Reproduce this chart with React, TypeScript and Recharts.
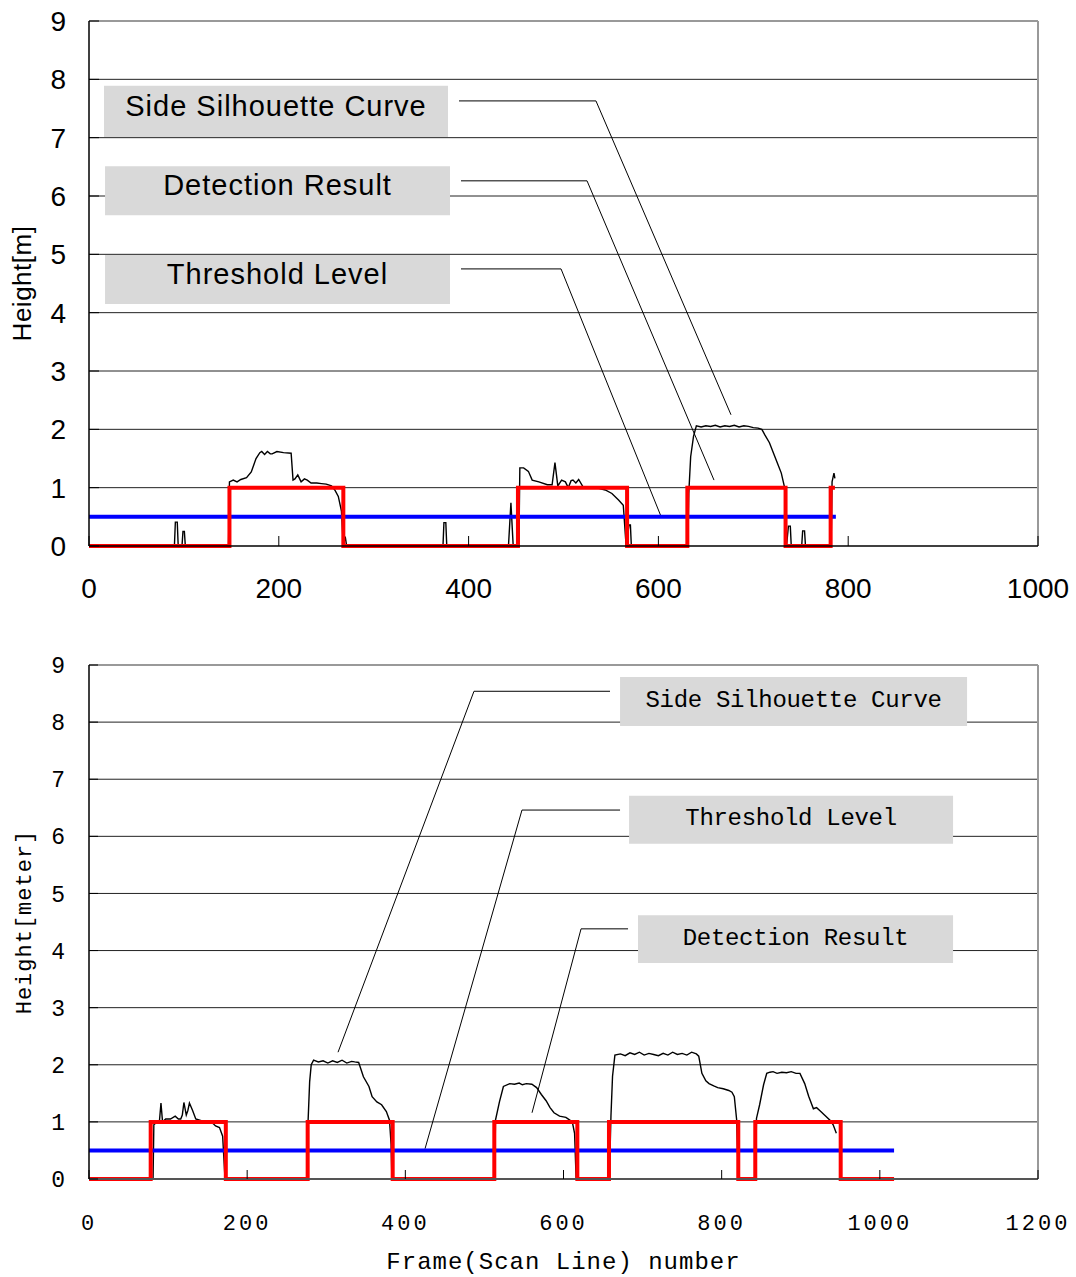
import React from 'react';
import {
  LineChart,
  Line,
  XAxis,
  YAxis,
  CartesianGrid,
  ReferenceArea,
  ReferenceLine
} from 'recharts';

// ---- top chart data (frame number vs height in m) ----
const topSilhouette = [
  { x: 0, y: 0 }, { x: 90, y: 0 }, { x: 91, y: 0.41 }, { x: 93, y: 0.41 }, { x: 94, y: 0 },
  { x: 98, y: 0 }, { x: 99, y: 0.25 }, { x: 100.5, y: 0.25 }, { x: 101.5, y: 0 },
  { x: 147, y: 0 }, { x: 148, y: 1.1 }, { x: 152, y: 1.13 }, { x: 156, y: 1.1 }, { x: 160, y: 1.14 },
  { x: 166, y: 1.17 }, { x: 171, y: 1.27 }, { x: 176, y: 1.5 }, { x: 180, y: 1.6 }, { x: 182, y: 1.62 },
  { x: 185, y: 1.57 }, { x: 188, y: 1.62 }, { x: 191, y: 1.58 }, { x: 193, y: 1.58 }, { x: 198, y: 1.62 },
  { x: 205, y: 1.6 }, { x: 213, y: 1.59 }, { x: 215, y: 1.13 }, { x: 217, y: 1.15 }, { x: 220, y: 1.22 },
  { x: 223.5, y: 1.1 }, { x: 227, y: 1.15 }, { x: 230, y: 1.13 }, { x: 234, y: 1.08 }, { x: 240, y: 1.08 },
  { x: 245, y: 1.07 }, { x: 250, y: 1.06 }, { x: 255.5, y: 1.03 }, { x: 259, y: 0.96 }, { x: 262.7, y: 0.85 },
  { x: 266, y: 0.6 }, { x: 268, y: 0 }, { x: 270, y: 0.16 }, { x: 271.5, y: 0 },
  { x: 373, y: 0 }, { x: 374, y: 0.4 }, { x: 376, y: 0.4 }, { x: 377, y: 0 },
  { x: 442, y: 0 }, { x: 444.6, y: 0.74 }, { x: 447, y: 0 },
  { x: 453, y: 0 }, { x: 454, y: 1.34 }, { x: 458, y: 1.34 }, { x: 463, y: 1.28 }, { x: 467, y: 1.13 },
  { x: 474, y: 1.1 }, { x: 483, y: 1.05 }, { x: 488, y: 1.05 }, { x: 491, y: 1.43 }, { x: 494, y: 1.03 },
  { x: 498, y: 1.13 }, { x: 502, y: 1.1 }, { x: 505, y: 1.0 }, { x: 508, y: 1.12 }, { x: 510, y: 1.13 },
  { x: 513, y: 1.08 }, { x: 516, y: 1.14 }, { x: 521, y: 1.0 }, { x: 530, y: 1.0 }, { x: 537, y: 0.99 },
  { x: 544, y: 0.96 }, { x: 551, y: 0.9 }, { x: 558, y: 0.79 }, { x: 563, y: 0.7 }, { x: 566, y: 0 },
  { x: 569, y: 0.36 }, { x: 570.5, y: 0.36 }, { x: 571.5, y: 0 },
  { x: 631, y: 0 }, { x: 632, y: 0.9 }, { x: 634, y: 1.53 }, { x: 637, y: 1.88 }, { x: 640, y: 2.06 },
  { x: 645, y: 2.04 }, { x: 650, y: 2.06 }, { x: 655, y: 2.05 }, { x: 660, y: 2.07 }, { x: 665, y: 2.04 },
  { x: 670, y: 2.06 }, { x: 675, y: 2.05 }, { x: 680, y: 2.07 }, { x: 685, y: 2.04 }, { x: 690, y: 2.06 },
  { x: 695, y: 2.05 }, { x: 700, y: 2.03 }, { x: 705, y: 2.02 }, { x: 709, y: 2.0 }, { x: 712, y: 1.91 },
  { x: 717, y: 1.77 }, { x: 724, y: 1.48 }, { x: 729.5, y: 1.25 }, { x: 733, y: 1.0 }, { x: 735, y: 0 },
  { x: 737, y: 0.34 }, { x: 739, y: 0.34 }, { x: 740, y: 0 },
  { x: 751, y: 0 }, { x: 752, y: 0.26 }, { x: 754, y: 0.26 }, { x: 755, y: 0 },
  { x: 782, y: 0 }, { x: 783, y: 1.1 }, { x: 785, y: 1.25 }, { x: 786, y: 1.16 }
];

const topDetection = [
  { x: 0, y: 0 }, { x: 148, y: 0 }, { x: 148, y: 1 }, { x: 268, y: 1 }, { x: 268, y: 0 },
  { x: 452, y: 0 }, { x: 452, y: 1 }, { x: 567, y: 1 }, { x: 567, y: 0 },
  { x: 630.5, y: 0 }, { x: 630.5, y: 1 }, { x: 734, y: 1 }, { x: 734, y: 0 },
  { x: 781.5, y: 0 }, { x: 781.5, y: 1 }, { x: 786, y: 1 }
];

const topThreshold = [{ x: 0, y: 0.5 }, { x: 787, y: 0.5 }];

const topXTicks = [0, 200, 400, 600, 800, 1000];

// ---- bottom chart data ----
const bottomSilhouette = [
  { x: 0, y: 0 }, { x: 81, y: 0 }, { x: 82, y: 0.95 }, { x: 86, y: 1.0 }, { x: 89, y: 1.0 },
  { x: 91, y: 1.33 }, { x: 93, y: 1.0 }, { x: 97, y: 1.05 }, { x: 103, y: 1.05 }, { x: 109, y: 1.1 },
  { x: 113, y: 1.05 }, { x: 116, y: 1.05 }, { x: 118, y: 1.12 }, { x: 120, y: 1.34 }, { x: 123, y: 1.12 },
  { x: 125, y: 1.2 }, { x: 127, y: 1.33 }, { x: 131, y: 1.2 }, { x: 135, y: 1.05 }, { x: 142, y: 1.02 },
  { x: 150, y: 1.0 }, { x: 157, y: 0.97 }, { x: 160, y: 0.93 }, { x: 165, y: 0.9 }, { x: 169, y: 0.75 },
  { x: 172, y: 0 },
  { x: 276, y: 0 }, { x: 277, y: 1.0 }, { x: 279, y: 1.7 }, { x: 281, y: 2.0 }, { x: 284, y: 2.08 },
  { x: 290, y: 2.05 }, { x: 296, y: 2.07 }, { x: 302, y: 2.03 }, { x: 308, y: 2.07 }, { x: 314, y: 2.04 },
  { x: 320, y: 2.08 }, { x: 326, y: 2.03 }, { x: 332, y: 2.06 }, { x: 336, y: 2.05 }, { x: 341, y: 2.04 },
  { x: 347, y: 1.79 }, { x: 354, y: 1.62 }, { x: 358, y: 1.44 }, { x: 364, y: 1.35 }, { x: 370, y: 1.3 },
  { x: 376, y: 1.18 }, { x: 380, y: 1.03 }, { x: 382, y: 0.6 }, { x: 383, y: 0 },
  { x: 513, y: 0 }, { x: 514, y: 1.03 }, { x: 519, y: 1.35 }, { x: 524, y: 1.62 }, { x: 532, y: 1.67 },
  { x: 538, y: 1.66 }, { x: 544, y: 1.68 }, { x: 548, y: 1.65 }, { x: 553, y: 1.67 }, { x: 560, y: 1.66 },
  { x: 566, y: 1.6 }, { x: 572, y: 1.48 }, { x: 578, y: 1.37 }, { x: 583, y: 1.25 }, { x: 588, y: 1.16 },
  { x: 595, y: 1.1 }, { x: 603, y: 1.08 }, { x: 608, y: 1.03 }, { x: 611, y: 1.01 }, { x: 614, y: 0.8 },
  { x: 616, y: 0 },
  { x: 658, y: 0 }, { x: 660, y: 1.1 }, { x: 662, y: 1.8 }, { x: 665, y: 2.17 }, { x: 672, y: 2.19 },
  { x: 678, y: 2.16 }, { x: 684, y: 2.21 }, { x: 690, y: 2.18 }, { x: 696, y: 2.22 }, { x: 702, y: 2.17 },
  { x: 708, y: 2.2 }, { x: 714, y: 2.18 }, { x: 720, y: 2.16 }, { x: 726, y: 2.2 }, { x: 732, y: 2.17 },
  { x: 738, y: 2.22 }, { x: 744, y: 2.18 }, { x: 750, y: 2.2 }, { x: 756, y: 2.17 }, { x: 762, y: 2.22 },
  { x: 768, y: 2.19 }, { x: 771, y: 2.15 }, { x: 775, y: 1.85 }, { x: 780, y: 1.72 }, { x: 784, y: 1.67 },
  { x: 790, y: 1.63 }, { x: 795, y: 1.6 }, { x: 802, y: 1.58 }, { x: 809, y: 1.55 }, { x: 813, y: 1.52 },
  { x: 816, y: 1.44 }, { x: 819, y: 1.03 }, { x: 821, y: 0 },
  { x: 843, y: 0 }, { x: 844, y: 1.06 }, { x: 848, y: 1.3 }, { x: 853, y: 1.65 }, { x: 857, y: 1.85 },
  { x: 861, y: 1.87 }, { x: 865, y: 1.88 }, { x: 870, y: 1.85 }, { x: 876, y: 1.87 }, { x: 882, y: 1.86 },
  { x: 888, y: 1.88 }, { x: 894, y: 1.85 }, { x: 899, y: 1.85 }, { x: 905, y: 1.67 }, { x: 910, y: 1.45 },
  { x: 916, y: 1.23 }, { x: 920, y: 1.25 }, { x: 924, y: 1.2 }, { x: 930, y: 1.12 }, { x: 937, y: 1.03 },
  { x: 941, y: 0.95 }, { x: 945, y: 0.8 }
];

const bottomDetection = [
  { x: 0, y: 0 }, { x: 78, y: 0 }, { x: 78, y: 1 }, { x: 173, y: 1 }, { x: 173, y: 0 },
  { x: 276.5, y: 0 }, { x: 276.5, y: 1 }, { x: 384, y: 1 }, { x: 384, y: 0 },
  { x: 512.5, y: 0 }, { x: 512.5, y: 1 }, { x: 617.5, y: 1 }, { x: 617.5, y: 0 },
  { x: 657.5, y: 0 }, { x: 657.5, y: 1 }, { x: 821, y: 1 }, { x: 821, y: 0 },
  { x: 842.5, y: 0 }, { x: 842.5, y: 1 }, { x: 950.5, y: 1 }, { x: 950.5, y: 0 }, { x: 1018, y: 0 }
];

const bottomThreshold = [{ x: 0, y: 0.5 }, { x: 1018, y: 0.5 }];

const bottomXTicks = [0, 200, 400, 600, 800, 1000, 1200];

const yTicks = [0, 1, 2, 3, 4, 5, 6, 7, 8, 9];
const gridValues = [1, 2, 3, 4, 5, 6, 7, 8];

// annotation boxes + leader lines (data coordinates)
const topNotes = [
  { text: 'Side Silhouette Curve', x1: 15.8, x2: 378.3, y1: 7.01, y2: 7.89,
    leader: [{ x: 389.9, y: 7.63 }, { x: 534.2, y: 7.63 }, { x: 676.5, y: 2.25 }] },
  { text: 'Detection Result', x1: 16.9, x2: 380.4, y1: 5.67, y2: 6.51,
    leader: [{ x: 392, y: 6.26 }, { x: 524.8, y: 6.26 }, { x: 658.6, y: 1.13 }] },
  { text: 'Threshold Level', x1: 16.9, x2: 380.4, y1: 4.15, y2: 4.99,
    leader: [{ x: 392, y: 4.75 }, { x: 497.4, y: 4.75 }, { x: 602.7, y: 0.51 }] }
];

const bottomNotes = [
  { text: 'Side Silhouette Curve', x1: 671.5, x2: 1110.3, y1: 7.93, y2: 8.79,
    leader: [{ x: 658.8, y: 8.54 }, { x: 486.8, y: 8.54 }, { x: 314.9, y: 2.22 }] },
  { text: 'Threshold Level', x1: 682.9, x2: 1092.6, y1: 5.87, y2: 6.71,
    leader: [{ x: 671.5, y: 6.46 }, { x: 547.5, y: 6.46 }, { x: 424.9, y: 0.53 }] },
  { text: 'Detection Result', x1: 694.2, x2: 1092.6, y1: 3.78, y2: 4.62,
    leader: [{ x: 681.6, y: 4.38 }, { x: 622.2, y: 4.38 }, { x: 560.2, y: 1.16 }] }
];

const SANS = '"Liberation Sans", Arial, sans-serif';
const MONO = '"Liberation Mono", "Courier New", monospace';

const makeYLabel = (text: string, x: number, font: string, size: number, spacing: number) =>
  (props: any) => {
    const vb = props.viewBox || {};
    const cy = vb.y + vb.height / 2;
    return (
      <text
        x={x}
        y={cy}
        transform={`rotate(-90, ${x}, ${cy})`}
        textAnchor="middle"
        dominantBaseline="central"
        fontFamily={font}
        fontSize={size}
        letterSpacing={spacing}
        fill="#000"
      >
        {text}
      </text>
    );
  };

const renderNotes = (notes: typeof topNotes, font: string, size: number, spacing: number, dy: number) => {
  const out: React.ReactNode[] = [];
  notes.forEach((n, i) => {
    out.push(
      <ReferenceArea
        key={`box-${i}`}
        x1={n.x1}
        x2={n.x2}
        y1={n.y1}
        y2={n.y2}
        fill="#d9d9d9"
        fillOpacity={1}
        stroke="none"
        label={{ value: n.text, position: 'center', fill: '#000', fontFamily: font, fontSize: size, letterSpacing: spacing, dy }}
      />
    );
    for (let k = 0; k < n.leader.length - 1; k++) {
      out.push(
        <ReferenceLine
          key={`lead-${i}-${k}`}
          segment={[n.leader[k], n.leader[k + 1]]}
          stroke="#000"
          strokeWidth={1}
        />
      );
    }
  });
  return out;
};

const App: React.FC = () => {
  return (
    <div style={{ position: 'absolute', left: 0, top: 0, width: 1076, height: 1277, background: '#fff' }}>
      {/* Top chart */}
      <LineChart width={1076} height={620} margin={{ top: 21, right: 38, left: 0, bottom: 0 }}>
        <CartesianGrid vertical={false} horizontalValues={gridValues} stroke="#222" strokeWidth={1} />
        <XAxis
          type="number"
          dataKey="x"
          domain={[0, 1000]}
          ticks={topXTicks}
          height={74}
          axisLine={{ stroke: '#000', strokeWidth: 1.5 }}
          tickLine={{ stroke: '#000' }}
          tickSize={-10}
          tickMargin={42}
          tick={{ fill: '#000', fontFamily: SANS, fontSize: 28 }}
          allowDataOverflow
        />
        <YAxis
          type="number"
          domain={[0, 9]}
          ticks={yTicks}
          width={89}
          axisLine={{ stroke: '#000', strokeWidth: 1.5 }}
          tickLine={{ stroke: '#000' }}
          tickSize={-10}
          tickMargin={33}
          tick={{ fill: '#000', fontFamily: SANS, fontSize: 28 }}
          label={makeYLabel('Height[m]', 22, SANS, 26, 0.5)}
        />
        <ReferenceLine y={9} stroke="#999" strokeWidth={2} />
        <ReferenceLine x={1000} stroke="#999" strokeWidth={2} />
        {renderNotes(topNotes, SANS, 29, 1, -6)}
        <Line data={topSilhouette} dataKey="y" type="linear" stroke="#000" strokeWidth={1.4} dot={false} activeDot={false} isAnimationActive={false} />
        <Line data={topThreshold} dataKey="y" type="linear" stroke="#0000ff" strokeWidth={4} dot={false} activeDot={false} isAnimationActive={false} />
        <Line data={topDetection} dataKey="y" type="linear" stroke="#ff0000" strokeWidth={4} dot={false} activeDot={false} isAnimationActive={false} />
      </LineChart>

      {/* Bottom chart */}
      <LineChart width={1076} height={657} margin={{ top: 45, right: 38, left: 0, bottom: 0 }}>
        <CartesianGrid vertical={false} horizontalValues={gridValues} stroke="#222" strokeWidth={1} />
        <XAxis
          type="number"
          dataKey="x"
          domain={[0, 1200]}
          ticks={bottomXTicks}
          height={98}
          axisLine={{ stroke: '#555', strokeWidth: 2 }}
          tickLine={{ stroke: '#000' }}
          tickSize={-9}
          tickMargin={44}
          tick={{ fill: '#000', fontFamily: MONO, fontSize: 22, letterSpacing: 3 }}
          label={{ value: 'Frame(Scan Line) number', position: 'insideBottom', offset: 8, fill: '#000', fontFamily: MONO, fontSize: 24, letterSpacing: 1 }}
          allowDataOverflow
        />
        <YAxis
          type="number"
          domain={[0, 9]}
          ticks={yTicks}
          width={89}
          axisLine={{ stroke: '#000', strokeWidth: 1.5 }}
          tickLine={{ stroke: '#000' }}
          tickSize={-9}
          tickMargin={32}
          tick={{ fill: '#000', fontFamily: MONO, fontSize: 23, letterSpacing: 1 }}
          label={makeYLabel('Height[meter]', 25, MONO, 22, 1)}
        />
        <ReferenceLine y={9} stroke="#999" strokeWidth={2} />
        <ReferenceLine x={1200} stroke="#999" strokeWidth={2} />
        {renderNotes(bottomNotes, MONO, 24, -0.3, -3)}
        <Line data={bottomSilhouette} dataKey="y" type="linear" stroke="#000" strokeWidth={1.4} dot={false} activeDot={false} isAnimationActive={false} />
        <Line data={bottomThreshold} dataKey="y" type="linear" stroke="#0000ff" strokeWidth={4} dot={false} activeDot={false} isAnimationActive={false} />
        <Line data={bottomDetection} dataKey="y" type="linear" stroke="#ff0000" strokeWidth={4} dot={false} activeDot={false} isAnimationActive={false} />
      </LineChart>
    </div>
  );
};

export default App;
